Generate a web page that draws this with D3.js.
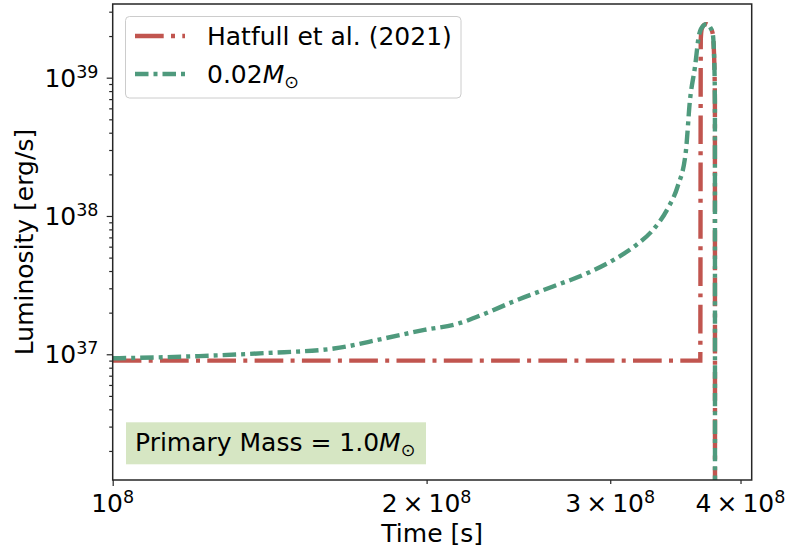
<!DOCTYPE html>
<html>
<head>
<meta charset="utf-8">
<script src="https://cdn.jsdelivr.net/npm/d3@7"></script>
<style>
body { margin: 0; background: #fff; }
svg text { font-family: "DejaVu Sans", sans-serif; fill: #000; }
</style>
</head>
<body>
<div id="chart"></div>
<script>
// Values
const hatfullTime = [1.0e8, 3.66e8, 3.664e8, 3.672e8, 3.69e8, 3.711e8, 3.735e8, 3.762e8, 3.776e8, 3.78e8, 3.781e8];
const hatfullLum = [9.0e36, 9.0e36, 1.9e39, 2.25e39, 2.4e39, 2.44e39, 2.35e39, 2.08e39, 1.19e39, 6.8e38, 1e35];

const modelTime = [1.0e8, 1.21e8, 1.4e8, 1.63e8, 1.82e8, 1.99e8, 2.14e8, 2.28e8, 2.42e8,
                   2.64e8, 2.85e8, 3.02e8, 3.18e8, 3.3e8, 3.41e8, 3.48e8, 3.545e8, 3.577e8, 3.617e8, 3.652e8,
                   3.685e8, 3.711e8, 3.74e8, 3.762e8, 3.776e8, 3.78e8, 3.781e8];
const modelLum = [9.35e36, 9.7e36, 1.02e37, 1.1e37, 1.3e37, 1.5e37, 1.66e37, 1.98e37, 2.4e37,
                  3.08e37, 3.85e37, 4.8e37, 6.2e37, 8.0e37, 1.15e38, 1.62e38, 2.92e38, 6.8e38, 1.19e39, 2.08e39,
                  2.38e39, 2.44e39, 2.32e39, 2.08e39, 1.19e39, 6.8e38, 1e35];

const seriesNames = ["Hatfull et al. (2021)", "0.02"];
const seriesColors = ["#c1554f", "#4f9a7d"];
const seriesDashes = ["28.7,7.3,4,7.3", "13.5,5,4,5"];

const xTickValues = [1e8, 2e8, 3e8, 4e8];
const xTickLabels = ["10^8", "2\u2009\u00d7\u200910^8", "3\u2009\u00d7\u200910^8", "4\u2009\u00d7\u200910^8"];
const yTickValues = [1e37, 1e38, 1e39];
const yTickLabels = ["10^37", "10^38", "10^39"];

// Figure geometry
const width = 786, height = 550;
const margin = {left: 112.7, right: 34.3, top: 4, bottom: 70};

const svg = d3.select("#chart")
              .append("svg")
              .attr("width", width)
              .attr("height", height);

const xScale = d3.scaleLog()
                 .domain([1e8, 4.1e8])
                 .range([margin.left, width - margin.right]);

const yScale = d3.scaleLog()
                 .domain([1.233e36, 3.41e39])
                 .range([height - margin.bottom, margin.top]);

// clip lines to the axes box
svg.append("clipPath")
   .attr("id", "plot-clip")
   .append("rect")
   .attr("x", margin.left)
   .attr("y", margin.top)
   .attr("width", width - margin.left - margin.right)
   .attr("height", height - margin.top - margin.bottom);

const line = d3.line()
               .x(d => xScale(d[0]))
               .y(d => yScale(d[1]))
               .curve(d3.curveMonotoneX);

const series = [
    d3.zip(hatfullTime, hatfullLum),
    d3.zip(modelTime, modelLum)
];

svg.append("g")
   .attr("clip-path", "url(#plot-clip)")
   .selectAll("path")
   .data(series)
   .enter()
   .append("path")
      .attr("d", d => line(d))
      .attr("fill", "none")
      .attr("stroke", (d, i) => seriesColors[i])
      .attr("stroke-width", 4.4)
      .attr("stroke-dasharray", (d, i) => seriesDashes[i]);

// Axes: major and minor ticks
const axisColor = "#262626";
const yMinor = yScale.ticks().filter(v => !yTickValues.includes(v) && Math.abs(Math.log10(v) % 1) > 1e-6);

function styleAxis(g) {
    g.select(".domain").remove();
    g.selectAll("line").attr("stroke", axisColor).attr("stroke-width", 1.2);
}

svg.append("g")
   .attr("transform", `translate(${margin.left},0)`)
   .call(d3.axisLeft(yScale).tickValues(yTickValues).tickSize(6).tickFormat(""))
   .call(styleAxis);
svg.append("g")
   .attr("transform", `translate(${margin.left},0)`)
   .call(d3.axisLeft(yScale).tickValues(yMinor).tickSize(3.5).tickFormat(""))
   .call(styleAxis);
svg.append("g")
   .attr("transform", `translate(0,${height - margin.bottom})`)
   .call(d3.axisBottom(xScale).tickValues([xTickValues[0]]).tickSize(6).tickFormat(""))
   .call(styleAxis);
svg.append("g")
   .attr("transform", `translate(0,${height - margin.bottom})`)
   .call(d3.axisBottom(xScale).tickValues(xTickValues.slice(1)).tickSize(4).tickFormat(""))
   .call(styleAxis);

// Frame
svg.append("rect")
   .attr("x", margin.left)
   .attr("y", margin.top)
   .attr("width", width - margin.left - margin.right)
   .attr("height", height - margin.top - margin.bottom)
   .attr("fill", "none")
   .attr("stroke", axisColor)
   .attr("stroke-width", 1.5);

// power-of-ten labels with superscripts
function powerLabel(sel, label) {
    const parts = label.split("^");
    sel.append("tspan").text(parts[0]);
    sel.append("tspan")
       .attr("dy", -9)
       .style("font-size", "17.5px")
       .text(parts[1]);
}

xTickValues.forEach((v, i) => {
    svg.append("text")
       .attr("x", xScale(v))
       .attr("y", 512)
       .attr("text-anchor", "middle")
       .style("font-size", "25px")
       .call(powerLabel, xTickLabels[i]);
});

yTickValues.forEach((v, i) => {
    svg.append("text")
       .attr("x", 98.5)
       .attr("y", yScale(v) + 9)
       .attr("text-anchor", "end")
       .style("font-size", "25px")
       .call(powerLabel, yTickLabels[i]);
});

// Axis titles
svg.append("text")
   .attr("x", (margin.left + width - margin.right) / 2)
   .attr("y", 542)
   .attr("text-anchor", "middle")
   .style("font-size", "25px")
   .text("Time [s]");

svg.append("text")
   .attr("transform", `translate(33,${(margin.top + height - margin.bottom) / 2}) rotate(-90)`)
   .attr("text-anchor", "middle")
   .style("font-size", "25px")
   .text("Luminosity [erg/s]");

// Legend
const legend = svg.append("g");
legend.append("rect")
      .attr("x", 125.5)
      .attr("y", 16.5)
      .attr("width", 335.5)
      .attr("height", 81.5)
      .attr("rx", 4)
      .attr("fill", "#fff")
      .attr("fill-opacity", 0.8)
      .attr("stroke", "#cccccc")
      .attr("stroke-width", 1);

seriesNames.forEach((name, i) => {
    const cy = 36 + i * 38;
    legend.append("line")
          .attr("x1", 135)
          .attr("x2", 185)
          .attr("y1", cy)
          .attr("y2", cy)
          .attr("stroke", seriesColors[i])
          .attr("stroke-width", 4.4)
          .attr("stroke-dasharray", seriesDashes[i]);
    const t = legend.append("text")
                    .attr("x", 207)
                    .attr("y", cy + 9)
                    .style("font-size", "25px");
    t.append("tspan").text(name);
    if (i === 1) {
        t.append("tspan").style("font-style", "italic").text("M");
        t.append("tspan").attr("dy", 5).style("font-size", "17.5px").text("\u2299");
    }
});

// Annotation box
svg.append("rect")
   .attr("x", 126)
   .attr("y", 422.3)
   .attr("width", 300)
   .attr("height", 42)
   .attr("fill", "#d6e6c3");

const note = svg.append("text")
                .attr("x", 135)
                .attr("y", 451)
                .style("font-size", "25px");
note.append("tspan").text("Primary Mass = 1.0");
note.append("tspan").style("font-style", "italic").text("M");
note.append("tspan").attr("dy", 5).style("font-size", "17.5px").text("\u2299");
</script>
</body>
</html>
